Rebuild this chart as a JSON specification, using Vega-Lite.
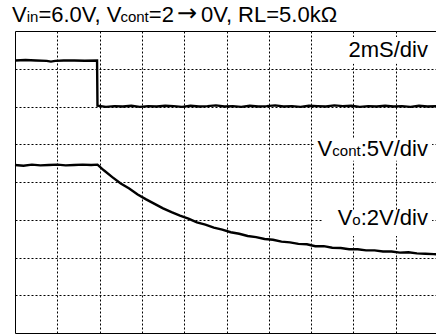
{
  "$schema": "https://vega.github.io/schema/vega-lite/v6.json",
  "width": 423,
  "height": 302,
  "autosize": {"type": "none"},
  "padding": {"left": 15, "top": 31, "right": 0, "bottom": 2},
  "background": "white",
  "config": {"view": {"stroke": "#000", "strokeWidth": 1}, "font": "Liberation Sans"},
  "datasets": {
    "traces": [
      {"s": "Vcont", "t": 0, "v": 7.22}, {"s": "Vcont", "t": 0.5, "v": 7.23}, {"s": "Vcont", "t": 1.0, "v": 7.22}, {"s": "Vcont", "t": 1.5, "v": 7.21}, {"s": "Vcont", "t": 1.7, "v": 7.19}, {"s": "Vcont", "t": 1.9, "v": 7.21}, {"s": "Vcont", "t": 2.3, "v": 7.22}, {"s": "Vcont", "t": 2.8, "v": 7.22}, {"s": "Vcont", "t": 3.3, "v": 7.21}, {"s": "Vcont", "t": 3.88, "v": 7.22},
      {"s": "Vcont", "t": 3.9, "v": 6.02}, {"s": "Vcont", "t": 4.3, "v": 5.99}, {"s": "Vcont", "t": 4.7, "v": 6.01}, {"s": "Vcont", "t": 5.1, "v": 6.0}, {"s": "Vcont", "t": 5.5, "v": 6.02}, {"s": "Vcont", "t": 5.9, "v": 5.99}, {"s": "Vcont", "t": 6.3, "v": 6.01}, {"s": "Vcont", "t": 6.7, "v": 6.0}, {"s": "Vcont", "t": 7.1, "v": 6.02}, {"s": "Vcont", "t": 7.5, "v": 6.01}, {"s": "Vcont", "t": 7.9, "v": 5.99}, {"s": "Vcont", "t": 8.3, "v": 6.02}, {"s": "Vcont", "t": 8.7, "v": 6.0}, {"s": "Vcont", "t": 9.1, "v": 6.01}, {"s": "Vcont", "t": 9.5, "v": 6.03}, {"s": "Vcont", "t": 9.9, "v": 6.0}, {"s": "Vcont", "t": 10.3, "v": 6.01}, {"s": "Vcont", "t": 10.7, "v": 5.99}, {"s": "Vcont", "t": 11.1, "v": 6.02}, {"s": "Vcont", "t": 11.5, "v": 6.0}, {"s": "Vcont", "t": 11.9, "v": 6.01}, {"s": "Vcont", "t": 12.3, "v": 6.03}, {"s": "Vcont", "t": 12.7, "v": 6.0}, {"s": "Vcont", "t": 13.1, "v": 6.01}, {"s": "Vcont", "t": 13.5, "v": 5.99}, {"s": "Vcont", "t": 13.9, "v": 6.02}, {"s": "Vcont", "t": 14.3, "v": 6.01}, {"s": "Vcont", "t": 14.7, "v": 6.0}, {"s": "Vcont", "t": 15.1, "v": 6.03}, {"s": "Vcont", "t": 15.5, "v": 6.01}, {"s": "Vcont", "t": 15.9, "v": 6.02}, {"s": "Vcont", "t": 16.3, "v": 5.99}, {"s": "Vcont", "t": 16.7, "v": 6.01}, {"s": "Vcont", "t": 17.1, "v": 6.0}, {"s": "Vcont", "t": 17.5, "v": 6.02}, {"s": "Vcont", "t": 17.9, "v": 6.0}, {"s": "Vcont", "t": 18.3, "v": 6.01}, {"s": "Vcont", "t": 18.7, "v": 5.99}, {"s": "Vcont", "t": 19.1, "v": 6.02}, {"s": "Vcont", "t": 19.5, "v": 6.0}, {"s": "Vcont", "t": 20, "v": 6.01},
      {"s": "Vo", "t": 0, "v": 4.45}, {"s": "Vo", "t": 0.4, "v": 4.43}, {"s": "Vo", "t": 0.8, "v": 4.46}, {"s": "Vo", "t": 1.2, "v": 4.44}, {"s": "Vo", "t": 1.6, "v": 4.45}, {"s": "Vo", "t": 2.0, "v": 4.46}, {"s": "Vo", "t": 2.4, "v": 4.44}, {"s": "Vo", "t": 2.8, "v": 4.45}, {"s": "Vo", "t": 3.2, "v": 4.46}, {"s": "Vo", "t": 3.6, "v": 4.45}, {"s": "Vo", "t": 3.9, "v": 4.46},
      {"s": "Vo", "t": 4.2, "v": 4.31}, {"s": "Vo", "t": 4.6, "v": 4.13}, {"s": "Vo", "t": 5.0, "v": 3.96}, {"s": "Vo", "t": 5.4, "v": 3.83}, {"s": "Vo", "t": 5.8, "v": 3.67}, {"s": "Vo", "t": 6.2, "v": 3.54}, {"s": "Vo", "t": 6.6, "v": 3.42}, {"s": "Vo", "t": 7.0, "v": 3.3}, {"s": "Vo", "t": 7.4, "v": 3.2}, {"s": "Vo", "t": 7.8, "v": 3.11}, {"s": "Vo", "t": 8.2, "v": 3.03}, {"s": "Vo", "t": 8.6, "v": 2.93}, {"s": "Vo", "t": 9.0, "v": 2.87}, {"s": "Vo", "t": 9.4, "v": 2.79}, {"s": "Vo", "t": 9.8, "v": 2.74}, {"s": "Vo", "t": 10.2, "v": 2.67}, {"s": "Vo", "t": 10.6, "v": 2.63}, {"s": "Vo", "t": 11.0, "v": 2.57}, {"s": "Vo", "t": 11.4, "v": 2.54}, {"s": "Vo", "t": 11.8, "v": 2.49}, {"s": "Vo", "t": 12.2, "v": 2.47}, {"s": "Vo", "t": 12.6, "v": 2.42}, {"s": "Vo", "t": 13.0, "v": 2.4}, {"s": "Vo", "t": 13.4, "v": 2.36}, {"s": "Vo", "t": 13.8, "v": 2.35}, {"s": "Vo", "t": 14.2, "v": 2.3}, {"s": "Vo", "t": 14.6, "v": 2.3}, {"s": "Vo", "t": 15.0, "v": 2.26}, {"s": "Vo", "t": 15.4, "v": 2.25}, {"s": "Vo", "t": 15.8, "v": 2.22}, {"s": "Vo", "t": 16.2, "v": 2.22}, {"s": "Vo", "t": 16.6, "v": 2.19}, {"s": "Vo", "t": 17.0, "v": 2.19}, {"s": "Vo", "t": 17.4, "v": 2.16}, {"s": "Vo", "t": 17.8, "v": 2.16}, {"s": "Vo", "t": 18.2, "v": 2.13}, {"s": "Vo", "t": 18.6, "v": 2.14}, {"s": "Vo", "t": 19.0, "v": 2.11}, {"s": "Vo", "t": 19.4, "v": 2.1}, {"s": "Vo", "t": 19.8, "v": 2.09}, {"s": "Vo", "t": 20.0, "v": 2.08}
    ]
  },
  "layer": [
    {
      "data": {"values": [{}]},
      "mark": {"type": "rect", "fill": "white", "stroke": null},
      "encoding": {
        "x": {"datum": 15.27, "type": "quantitative"}, "x2": {"datum": 19.72},
        "y": {"datum": 7.13, "type": "quantitative"}, "y2": {"datum": 7.84}
      }
    },
    {
      "data": {"values": [{}]},
      "mark": {"type": "rect", "fill": "white", "stroke": null},
      "encoding": {
        "x": {"datum": 14.14, "type": "quantitative"}, "x2": {"datum": 19.72},
        "y": {"datum": 4.56, "type": "quantitative"}, "y2": {"datum": 5.14}
      }
    },
    {
      "data": {"values": [{}]},
      "mark": {"type": "rect", "fill": "white", "stroke": null},
      "encoding": {
        "x": {"datum": 14.52, "type": "quantitative"}, "x2": {"datum": 19.72},
        "y": {"datum": 2.57, "type": "quantitative"}, "y2": {"datum": 3.26}
      }
    },
    {
      "data": {"name": "traces"},
      "mark": {"type": "line", "color": "#000", "strokeWidth": 2.4, "interpolate": "linear"},
      "encoding": {
        "x": {"field": "t", "type": "quantitative", "scale": {"domain": [0, 20], "nice": false, "zero": false},
              "axis": {"values": [2, 4, 6, 8, 10, 12, 14, 16, 18], "grid": true, "gridColor": "#000", "gridDash": [2, 2], "gridOpacity": 1, "gridWidth": 1, "domain": false, "ticks": false, "labels": false, "title": null}},
        "y": {"field": "v", "type": "quantitative", "scale": {"domain": [0, 8], "nice": false, "zero": false},
              "axis": {"values": [1, 2, 3, 4, 5, 6, 7], "grid": true, "gridColor": "#000", "gridDash": [2, 2], "gridOpacity": 1, "gridWidth": 1, "domain": false, "ticks": false, "labels": false, "title": null}},
        "detail": {"field": "s"}
      }
    },
    {"data": {"values": [{}]}, "mark": {"type": "text", "align": "left", "baseline": "alphabetic", "fontSize": 22, "color": "#000"},
     "encoding": {"x": {"datum": -0.142, "type": "quantitative"}, "y": {"datum": 8.25, "type": "quantitative"}, "text": {"value": "V"}}},
    {"data": {"values": [{}]}, "mark": {"type": "text", "align": "left", "baseline": "alphabetic", "fontSize": 15, "color": "#000"},
     "encoding": {"x": {"datum": 0.553, "type": "quantitative"}, "y": {"datum": 8.25, "type": "quantitative"}, "text": {"value": "in"}}},
    {"data": {"values": [{}]}, "mark": {"type": "text", "align": "left", "baseline": "alphabetic", "fontSize": 22, "color": "#000"},
     "encoding": {"x": {"datum": 1.106, "type": "quantitative"}, "y": {"datum": 8.25, "type": "quantitative"}, "text": {"value": "=6.0V, V"}}},
    {"data": {"values": [{}]}, "mark": {"type": "text", "align": "left", "baseline": "alphabetic", "fontSize": 15, "color": "#000"},
     "encoding": {"x": {"datum": 4.983, "type": "quantitative"}, "y": {"datum": 8.25, "type": "quantitative"}, "text": {"value": "cont"}}},
    {"data": {"values": [{}]}, "mark": {"type": "text", "align": "left", "baseline": "alphabetic", "fontSize": 22, "color": "#000"},
     "encoding": {"x": {"datum": 6.326, "type": "quantitative"}, "y": {"datum": 8.25, "type": "quantitative"}, "text": {"value": "=2"}}},
    {"data": {"values": [{}]}, "mark": {"type": "text", "align": "left", "baseline": "alphabetic", "fontSize": 24, "font": "DejaVu Sans", "color": "#000"},
     "encoding": {"x": {"datum": 7.66, "type": "quantitative"}, "y": {"datum": 8.27, "type": "quantitative"}, "text": {"value": "→"}}},
    {"data": {"values": [{}]}, "mark": {"type": "text", "align": "left", "baseline": "alphabetic", "fontSize": 22, "color": "#000"},
     "encoding": {"x": {"datum": 8.794, "type": "quantitative"}, "y": {"datum": 8.25, "type": "quantitative"}, "text": {"value": "0V, RL=5.0kΩ"}}},
    {"data": {"values": [{}]}, "mark": {"type": "text", "align": "right", "baseline": "alphabetic", "fontSize": 22, "color": "#000"},
     "encoding": {"x": {"datum": 19.527, "type": "quantitative"}, "y": {"datum": 7.303, "type": "quantitative"}, "text": {"value": "2mS/div"}}},
    {"data": {"values": [{}]}, "mark": {"type": "text", "align": "right", "baseline": "alphabetic", "fontSize": 22, "color": "#000"},
     "encoding": {"x": {"datum": 19.527, "type": "quantitative"}, "y": {"datum": 4.697, "type": "quantitative"}, "text": {"value": ":5V/div"}}},
    {"data": {"values": [{}]}, "mark": {"type": "text", "align": "right", "baseline": "alphabetic", "fontSize": 15, "color": "#000"},
     "encoding": {"x": {"datum": 16.345, "type": "quantitative"}, "y": {"datum": 4.697, "type": "quantitative"}, "text": {"value": "cont"}}},
    {"data": {"values": [{}]}, "mark": {"type": "text", "align": "right", "baseline": "alphabetic", "fontSize": 22, "color": "#000"},
     "encoding": {"x": {"datum": 15.002, "type": "quantitative"}, "y": {"datum": 4.697, "type": "quantitative"}, "text": {"value": "V"}}},
    {"data": {"values": [{}]}, "mark": {"type": "text", "align": "right", "baseline": "alphabetic", "fontSize": 22, "color": "#000"},
     "encoding": {"x": {"datum": 19.527, "type": "quantitative"}, "y": {"datum": 2.861, "type": "quantitative"}, "text": {"value": ":2V/div"}}},
    {"data": {"values": [{}]}, "mark": {"type": "text", "align": "right", "baseline": "alphabetic", "fontSize": 15, "color": "#000"},
     "encoding": {"x": {"datum": 16.345, "type": "quantitative"}, "y": {"datum": 2.861, "type": "quantitative"}, "text": {"value": "o"}}},
    {"data": {"values": [{}]}, "mark": {"type": "text", "align": "right", "baseline": "alphabetic", "fontSize": 22, "color": "#000"},
     "encoding": {"x": {"datum": 15.953, "type": "quantitative"}, "y": {"datum": 2.861, "type": "quantitative"}, "text": {"value": "V"}}}
  ]
}
